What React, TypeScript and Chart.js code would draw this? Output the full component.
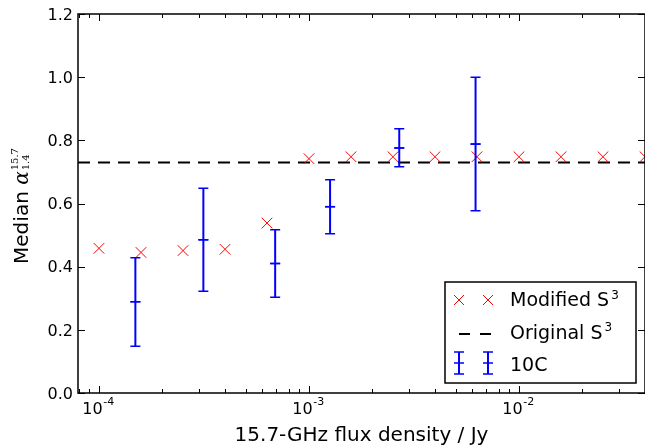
import React, { useEffect, useRef } from 'react';
import { Chart, registerables } from 'chart.js';

Chart.register(...registerables);

// ---- data ----
const s3Flux = [1e-4, 1.585e-4, 2.512e-4, 3.981e-4, 6.31e-4, 1e-3, 1.585e-3, 2.512e-3, 3.981e-3, 6.31e-3, 1e-2, 1.585e-2, 2.512e-2, 3.981e-2];
const s3Alpha = [0.458, 0.445, 0.451, 0.455, 0.538, 0.742, 0.748, 0.748, 0.748, 0.748, 0.748, 0.748, 0.748, 0.748];
const originalS3 = 0.73;
const tenCFlux = [1.49e-4, 3.14e-4, 6.9e-4, 1.26e-3, 2.69e-3, 6.21e-3];
const tenCAlpha = [0.289, 0.485, 0.41, 0.59, 0.776, 0.788];
const tenCLow = [0.148, 0.322, 0.303, 0.504, 0.716, 0.577];
const tenCHigh = [0.428, 0.648, 0.517, 0.675, 0.837, 1.0];
const xMin = 7.943e-5; // 10^-4.1
const xMax = 3.981e-2; // 10^-1.4
const yMin = 0;
const yMax = 1.2;
const yTicks = [0, 0.2, 0.4, 0.6, 0.8, 1.0, 1.2];
const yTickLabels = ['0.0', '0.2', '0.4', '0.6', '0.8', '1.0', '1.2'];
const xMajorExps = [-5, -4, -3, -2, -1];
const xMajorLabels = ['-5', '-4', '-3', '-2', '-1'];
const xTitle = '15.7-GHz flux density / Jy';
const yTitleMain = 'Median ';
const yTitleSym = 'α';
const yTitleSup = '15.7';
const yTitleSub = '1.4';
const legendTexts = ['Modified S', 'Original S', '10C'];
const legendSups = ['3', '3', ''];

const RED = '#ff0000';
const BLUE = '#0000ff';
const SANS = '"DejaVu Sans", sans-serif';
const SERIF = '"DejaVu Serif", serif';

function drawCross(ctx: CanvasRenderingContext2D, cx: number, cy: number, h: number) {
  ctx.beginPath();
  ctx.moveTo(cx - h, cy - h);
  ctx.lineTo(cx + h, cy + h);
  ctx.moveTo(cx - h, cy + h);
  ctx.lineTo(cx + h, cy - h);
  ctx.stroke();
}

function drawErrMarker(ctx: CanvasRenderingContext2D, px: number, top: number, mid: number, bot: number) {
  ctx.strokeStyle = BLUE;
  ctx.lineWidth = 2;
  ctx.beginPath();
  ctx.moveTo(px, top);
  ctx.lineTo(px, bot);
  ctx.stroke();
  ctx.lineWidth = 1.5;
  ctx.beginPath();
  ctx.moveTo(px - 5, top);
  ctx.lineTo(px + 5, top);
  ctx.moveTo(px - 5, bot);
  ctx.lineTo(px + 5, bot);
  ctx.moveTo(px - 5, mid);
  ctx.lineTo(px + 5, mid);
  ctx.stroke();
}

const overlay = {
  id: 'overlay',
  afterDatasetsDraw(chart: any) {
    const { ctx, chartArea: a, scales } = chart;
    const x = scales.x;
    const y = scales.y;
    ctx.save();
    ctx.beginPath();
    ctx.rect(a.left, a.top, a.right - a.left, a.bottom - a.top);
    ctx.clip();
    tenCFlux.forEach((f, i) => {
      const px = x.getPixelForValue(f);
      drawErrMarker(ctx, px, y.getPixelForValue(tenCHigh[i]), y.getPixelForValue(tenCAlpha[i]), y.getPixelForValue(tenCLow[i]));
    });
    ctx.restore();
  },
  afterDraw(chart: any) {
    const { ctx, chartArea: a, scales } = chart;
    const x = scales.x;
    const y = scales.y;
    ctx.save();

    // ticks
    ctx.strokeStyle = '#000';
    ctx.lineWidth = 1;
    ctx.beginPath();
    yTicks.forEach((v) => {
      const py = Math.round(y.getPixelForValue(v)) + 0.5;
      ctx.moveTo(a.left, py);
      ctx.lineTo(a.left + 7, py);
      ctx.moveTo(a.right, py);
      ctx.lineTo(a.right - 7, py);
    });
    xMajorExps.forEach((e) => {
      for (let m = 1; m <= 9; m++) {
        const v = m * Math.pow(10, e);
        if (v < xMin || v > xMax) continue;
        const px = Math.round(x.getPixelForValue(v)) + 0.5;
        const len = m === 1 ? 7 : 4;
        ctx.moveTo(px, a.bottom);
        ctx.lineTo(px, a.bottom - len);
        ctx.moveTo(px, a.top);
        ctx.lineTo(px, a.top + len);
      }
    });
    ctx.stroke();

    // spines
    ctx.lineWidth = 1.5;
    ctx.strokeRect(a.left, a.top, a.right - a.left, a.bottom - a.top);

    // y tick labels
    ctx.fillStyle = '#000';
    ctx.font = '16px ' + SANS;
    ctx.textAlign = 'right';
    ctx.textBaseline = 'alphabetic';
    yTicks.forEach((v, i) => {
      ctx.fillText(yTickLabels[i], a.left - 5, y.getPixelForValue(v) + 5.8);
    });

    // x tick labels
    ctx.textAlign = 'left';
    xMajorExps.forEach((e, i) => {
      const v = Math.pow(10, e);
      if (v < xMin || v > xMax) return;
      const px = x.getPixelForValue(v);
      ctx.font = '16px ' + SANS;
      const wBase = ctx.measureText('10').width;
      ctx.font = '11px ' + SANS;
      const wExp = ctx.measureText(xMajorLabels[i]).width;
      const start = px - (wBase + wExp) / 2 - 1;
      ctx.font = '16px ' + SANS;
      ctx.fillText('10', start, 413.5);
      ctx.font = '11px ' + SANS;
      ctx.fillText(xMajorLabels[i], start + wBase + 0.5, 404.5);
    });

    // x title
    ctx.font = '20px ' + SANS;
    ctx.textAlign = 'center';
    ctx.fillText(xTitle, (a.left + a.right) / 2, 440.5);

    // y title (rotated)
    ctx.save();
    ctx.translate(27.5, 206);
    ctx.rotate(-Math.PI / 2);
    ctx.textAlign = 'left';
    ctx.font = '20px ' + SANS;
    const w1 = ctx.measureText(yTitleMain).width;
    ctx.font = 'italic 20px ' + SERIF;
    const w2 = ctx.measureText(yTitleSym).width;
    ctx.font = '10px ' + SERIF;
    const w3 = Math.max(ctx.measureText(yTitleSup).width, ctx.measureText(yTitleSub).width);
    const total = w1 + w2 + 1 + w3;
    let u = -total / 2;
    ctx.font = '20px ' + SANS;
    ctx.fillText(yTitleMain, u, 0);
    u += w1;
    ctx.font = 'italic 20px ' + SERIF;
    ctx.fillText(yTitleSym, u, 0);
    u += w2 + 1;
    ctx.font = '10px ' + SERIF;
    ctx.fillText(yTitleSup, u, -10);
    ctx.fillText(yTitleSub, u, 1);
    ctx.restore();

    // legend
    const lx = 445, ly = 282, lw = 191, lh = 101;
    ctx.fillStyle = '#fff';
    ctx.fillRect(lx, ly, lw, lh);
    ctx.strokeStyle = '#000';
    ctx.lineWidth = 1.5;
    ctx.strokeRect(lx, ly, lw, lh);

    const mx = [459, 488];
    const rowY = [300, 334, 363];
    const baseY = [306, 338.5, 371];
    ctx.strokeStyle = RED;
    ctx.lineWidth = 1;
    mx.forEach((cx) => drawCross(ctx, cx, rowY[0], 5));
    ctx.strokeStyle = '#000';
    ctx.lineWidth = 2;
    ctx.beginPath();
    ctx.moveTo(459, rowY[1]);
    ctx.lineTo(470, rowY[1]);
    ctx.moveTo(480, rowY[1]);
    ctx.lineTo(491, rowY[1]);
    ctx.stroke();
    mx.forEach((cx) => drawErrMarker(ctx, cx, rowY[2] - 11, rowY[2], rowY[2] + 11));

    ctx.fillStyle = '#000';
    ctx.textAlign = 'left';
    legendTexts.forEach((t, i) => {
      ctx.font = '19px ' + SANS;
      ctx.fillText(t, 510, baseY[i]);
      const w = ctx.measureText(t).width;
      if (legendSups[i]) {
        ctx.font = '12px ' + SANS;
        ctx.fillText(legendSups[i], 510 + w + 2, baseY[i] - 7.5);
      }
    });

    ctx.restore();
  },
};

export default function App() {
  const ref = useRef<HTMLCanvasElement>(null);
  useEffect(() => {
    document.body.style.margin = '0';
    const canvas = ref.current;
    if (!canvas) return;
    const chart = new Chart(canvas, {
      type: 'scatter',
      data: {
        datasets: [
          {
            label: '10C',
            data: tenCFlux.map((f, i) => ({ x: f, y: tenCAlpha[i] })),
            pointStyle: 'line',
            pointRadius: 5,
            borderColor: BLUE,
            backgroundColor: BLUE,
            borderWidth: 1.5,
            showLine: false,
            order: 0,
          } as any,
          {
            label: 'Modified S3',
            data: s3Flux.map((f, i) => ({ x: f, y: s3Alpha[i] })),
            pointStyle: 'crossRot',
            pointRadius: 7.5,
            borderColor: RED,
            backgroundColor: RED,
            borderWidth: 1,
            showLine: false,
            order: 1,
          } as any,
          {
            label: 'Original S3',
            data: [
              { x: xMin, y: originalS3 },
              { x: xMax, y: originalS3 },
            ],
            showLine: true,
            borderColor: '#000',
            borderWidth: 2,
            borderDash: [12, 8],
            pointRadius: 0,
            order: 2,
          } as any,
        ],
      },
      options: {
        animation: false,
        responsive: false,
        maintainAspectRatio: false,
        layout: { autoPadding: false, padding: { left: 78, right: 0, top: 14, bottom: 55 } },
        scales: {
          x: { type: 'logarithmic', min: xMin, max: xMax, display: false },
          y: { type: 'linear', min: yMin, max: yMax, display: false },
        },
        plugins: {
          legend: { display: false },
          tooltip: { enabled: false },
        },
        events: [],
      },
      plugins: [overlay],
    });
    return () => chart.destroy();
  }, []);
  return <canvas ref={ref} width={645} height={448} style={{ display: 'block' }} />;
}
